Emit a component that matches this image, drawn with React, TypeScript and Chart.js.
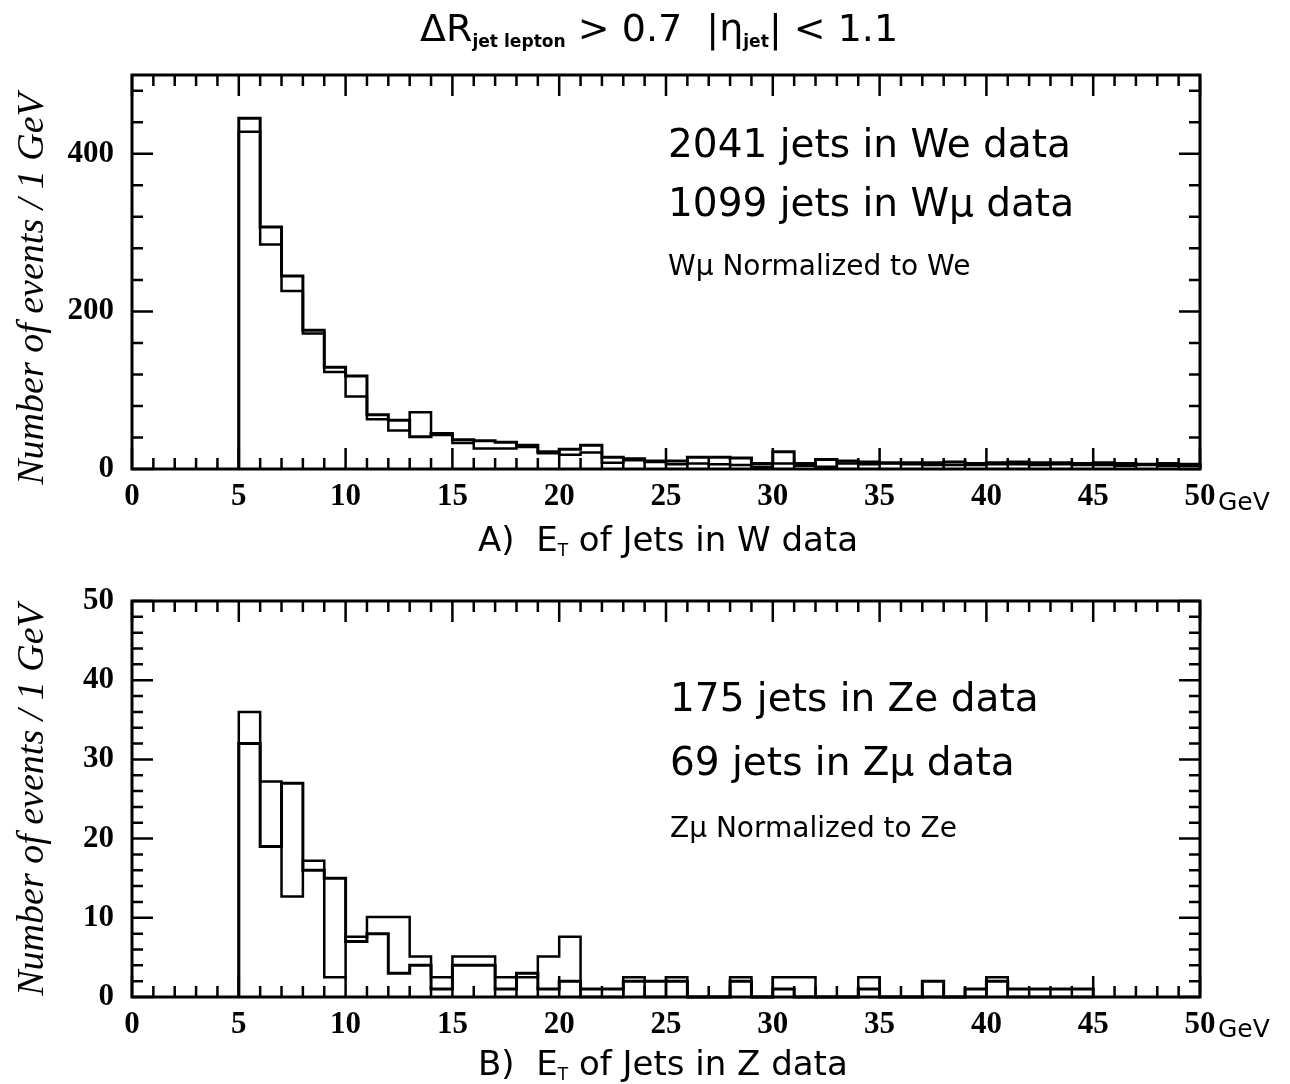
import React, { useEffect, useRef } from 'react';
import { Chart, registerables } from 'chart.js';

Chart.register(...registerables);

// ---------- data ----------
const W_BIN_EDGES = [5, 6, 7, 8, 9, 10, 11, 12, 13, 14, 15, 16, 17, 18, 19, 20, 21, 22, 23, 24, 25, 26, 27, 28, 29, 30, 31, 32, 33, 34, 35, 36, 37, 38, 39, 40, 41, 42, 43, 44, 45, 46, 47, 48, 49, 50];
const W_E_COUNTS = [445, 307, 245, 176, 129, 118, 69, 62, 41, 45, 37, 36, 34, 30, 22, 25, 30, 15, 13, 10, 10, 15, 15, 14, 7, 22, 7, 12, 10, 9, 8, 8, 8, 9, 7, 8, 9, 8, 8, 7, 8, 7, 6, 7, 6];
const W_MU_NORM = [428, 285, 226, 172, 123, 92, 63, 49, 72, 43, 33, 26, 26, 28, 20, 18, 21, 8, 11, 9, 6, 7, 6, 5, 3, 7, 4, 3, 7, 6, 7, 6, 5, 5, 5, 6, 6, 5, 6, 5, 5, 4, 5, 4, 4];

const Z_BIN_EDGES = [5, 6, 7, 8, 9, 10, 11, 12, 13, 14, 15, 16, 17, 18, 19, 20, 21, 22, 23, 24, 25, 26, 27, 28, 29, 30, 31, 32, 33, 34, 35, 36, 37, 38, 39, 40, 41, 42, 43, 44, 45];
const Z_E_COUNTS = [32, 19, 27, 16, 15, 7, 8, 3, 4, 1, 4, 4, 1, 3, 1, 2, 1, 1, 2, 2, 2, 0, 0, 2, 0, 1, 0, 0, 0, 1, 0, 0, 2, 0, 1, 2, 1, 1, 1, 1];
const Z_MU_NORM = [36, 27.2, 12.7, 17.2, 2.5, 7.6, 10.1, 10.1, 5.1, 2.5, 5.1, 5.1, 2.5, 2.5, 5.1, 7.6, 0, 0, 2.5, 0, 2.5, 0, 0, 2.5, 0, 2.5, 2.5, 0, 0, 2.5, 0, 0, 0, 0, 0, 2.5, 0, 0, 0, 0];

const X_TICK_VALUES = [0, 5, 10, 15, 20, 25, 30, 35, 40, 45, 50];
const W_Y_TICKS = [0, 200, 400];
const Z_Y_TICKS = [0, 10, 20, 30, 40, 50];

// ---------- helpers ----------
function histPoints(edges: number[], values: number[]) {
  const pts: { x: number; y: number }[] = [{ x: edges[0], y: 0 }];
  values.forEach((v, i) => pts.push({ x: edges[i], y: v }));
  pts.push({ x: edges[edges.length - 1], y: 0 });
  return pts;
}

const framePlugin = {
  id: 'histFrame',
  afterDraw(chart: any, _args: any, o: any) {
    const { ctx, chartArea: a, scales } = chart;
    const x = scales.x;
    const y = scales.y;
    ctx.save();
    ctx.strokeStyle = '#000';
    ctx.lineWidth = 3;
    ctx.strokeRect(a.left, a.top, a.right - a.left, a.bottom - a.top);
    ctx.lineWidth = 2.5;
    ctx.beginPath();
    const isMajor = (v: number, m: number) => Math.abs(v / m - Math.round(v / m)) < 1e-6;
    for (let v = x.min; v <= x.max + 1e-9; v += o.xMinor) {
      const px = x.getPixelForValue(v);
      const len = isMajor(v, o.xMajor) ? 21 : 11;
      ctx.moveTo(px, a.bottom);
      ctx.lineTo(px, a.bottom - len);
      ctx.moveTo(px, a.top);
      ctx.lineTo(px, a.top + len);
    }
    for (let v = y.min; v <= y.max + 1e-9; v += o.yMinor) {
      const py = y.getPixelForValue(v);
      const len = isMajor(v, o.yMajor) ? 21 : 11;
      ctx.moveTo(a.left, py);
      ctx.lineTo(a.left + len, py);
      ctx.moveTo(a.right, py);
      ctx.lineTo(a.right - len, py);
    }
    ctx.stroke();
    ctx.restore();
  },
};

type HistProps = {
  top: number;
  height: number;
  padTop: number;
  padBottom: number;
  edges: number[];
  seriesA: number[];
  seriesB: number[];
  yMax: number;
  yTicks: number[];
  yMajor: number;
  yMinor: number;
};

function HistChart(p: HistProps) {
  const ref = useRef<HTMLCanvasElement | null>(null);
  useEffect(() => {
    if (!ref.current) return;
    const tickFont = { family: '"Liberation Serif", serif', weight: 'bold' as const, size: 31 };
    const chart = new Chart(ref.current, {
      type: 'line',
      data: {
        datasets: [
          {
            label: 'e',
            data: histPoints(p.edges, p.seriesA),
            stepped: 'before',
            borderColor: '#000',
            borderWidth: 3,
            pointRadius: 0,
            fill: false,
            clip: false,
          } as any,
          {
            label: 'mu normalized',
            data: histPoints(p.edges, p.seriesB),
            stepped: 'before',
            borderColor: '#000',
            borderWidth: 2.5,
            pointRadius: 0,
            fill: false,
            clip: false,
          } as any,
        ],
      },
      options: {
        animation: false,
        responsive: false,
        devicePixelRatio: 1,
        events: [],
        layout: { padding: { left: 52, right: 90, top: p.padTop, bottom: p.padBottom } },
        plugins: {
          legend: { display: false },
          tooltip: { enabled: false },
          histFrame: { xMajor: 5, xMinor: 1, yMajor: p.yMajor, yMinor: p.yMinor },
        } as any,
        scales: {
          x: {
            type: 'linear',
            min: 0,
            max: 50,
            afterBuildTicks: (s: any) => {
              s.ticks = X_TICK_VALUES.map((v) => ({ value: v }));
            },
            afterFit: (s: any) => {
              s.height = 45;
            },
            ticks: { font: tickFont, color: '#000', padding: 9, maxRotation: 0, autoSkip: false },
            grid: { display: false, drawTicks: false },
            border: { display: false },
          },
          y: {
            type: 'linear',
            min: 0,
            max: p.yMax,
            afterBuildTicks: (s: any) => {
              s.ticks = p.yTicks.map((v) => ({ value: v }));
            },
            afterFit: (s: any) => {
              s.width = 80;
            },
            ticks: { font: tickFont, color: '#000', padding: 18, autoSkip: false },
            grid: { display: false, drawTicks: false },
            border: { display: false },
          },
        },
      } as any,
      plugins: [framePlugin],
    });
    return () => chart.destroy();
  }, []);
  return (
    <canvas
      ref={ref}
      width={1290}
      height={p.height}
      style={{ position: 'absolute', left: 0, top: p.top, width: 1290, height: p.height }}
    />
  );
}

const sans = '"DejaVu Sans", sans-serif';

function Txt(props: { left: number; baseline: number; size: number; children: any; family?: string; style?: any }) {
  const fam = props.family || sans;
  const k = fam.includes('Serif') ? 0.8375 : 0.846;
  return (
    <div
      style={{
        position: 'absolute',
        left: props.left,
        top: props.baseline - k * props.size,
        fontFamily: fam,
        fontSize: props.size,
        lineHeight: 1,
        whiteSpace: 'nowrap',
        color: '#000',
        ...(props.style || {}),
      }}
    >
      {props.children}
    </div>
  );
}

function YTitle(props: { cx: number; cy: number }) {
  return (
    <div
      style={{
        position: 'absolute',
        left: props.cx,
        top: props.cy,
        transform: 'translate(-50%, -50%) rotate(-90deg)',
        fontFamily: '"Liberation Serif", serif',
        fontStyle: 'italic',
        fontSize: 38,
        lineHeight: 1,
        whiteSpace: 'nowrap',
        color: '#000',
      }}
    >
      Number of events / 1 GeV
    </div>
  );
}

const subStyle: any = { fontSize: '0.45em', fontWeight: 'bold', verticalAlign: '-0.35em' };
const subT: any = { fontSize: '0.5em', verticalAlign: '-0.3em' };

export default function App() {
  return (
    <div style={{ position: 'absolute', left: 0, top: 0, width: 1290, height: 1084, background: '#fff', overflow: 'hidden' }}>
      <HistChart
        top={0}
        height={520}
        padTop={75}
        padBottom={6}
        edges={W_BIN_EDGES}
        seriesA={W_E_COUNTS}
        seriesB={W_MU_NORM}
        yMax={500}
        yTicks={W_Y_TICKS}
        yMajor={200}
        yMinor={40}
      />
      <HistChart
        top={540}
        height={544}
        padTop={61}
        padBottom={42}
        edges={Z_BIN_EDGES}
        seriesA={Z_E_COUNTS}
        seriesB={Z_MU_NORM}
        yMax={50}
        yTicks={Z_Y_TICKS}
        yMajor={10}
        yMinor={2}
      />

      {/* main title */}
      <Txt left={420} baseline={41} size={38}>
        ΔR<span style={subStyle}>jet lepton</span> &gt; 0.7&nbsp;&nbsp;|η<span style={subStyle}>jet</span>| &lt; 1.1
      </Txt>

      {/* y titles */}
      <YTitle cx={30} cy={289} />
      <YTitle cx={30} cy={800} />

      {/* GeV units */}
      <Txt left={1218} baseline={510} size={25}>GeV</Txt>
      <Txt left={1218} baseline={1037} size={25}>GeV</Txt>

      {/* x titles */}
      <Txt left={478} baseline={551} size={34}>
        A)&nbsp;&nbsp;E<span style={subT}>T</span> of Jets in W data
      </Txt>
      <Txt left={478} baseline={1075} size={34}>
        B)&nbsp;&nbsp;E<span style={subT}>T</span> of Jets in Z data
      </Txt>

      {/* annotations top */}
      <Txt left={668} baseline={157} size={39}>2041 jets in We data</Txt>
      <Txt left={668} baseline={216} size={39}>1099 jets in Wμ data</Txt>
      <Txt left={668} baseline={276} size={28}>Wμ Normalized to We</Txt>

      {/* annotations bottom */}
      <Txt left={670} baseline={711} size={39}>175 jets in Ze data</Txt>
      <Txt left={670} baseline={775} size={39}>69 jets in Zμ data</Txt>
      <Txt left={670} baseline={838} size={28}>Zμ Normalized to Ze</Txt>
    </div>
  );
}
